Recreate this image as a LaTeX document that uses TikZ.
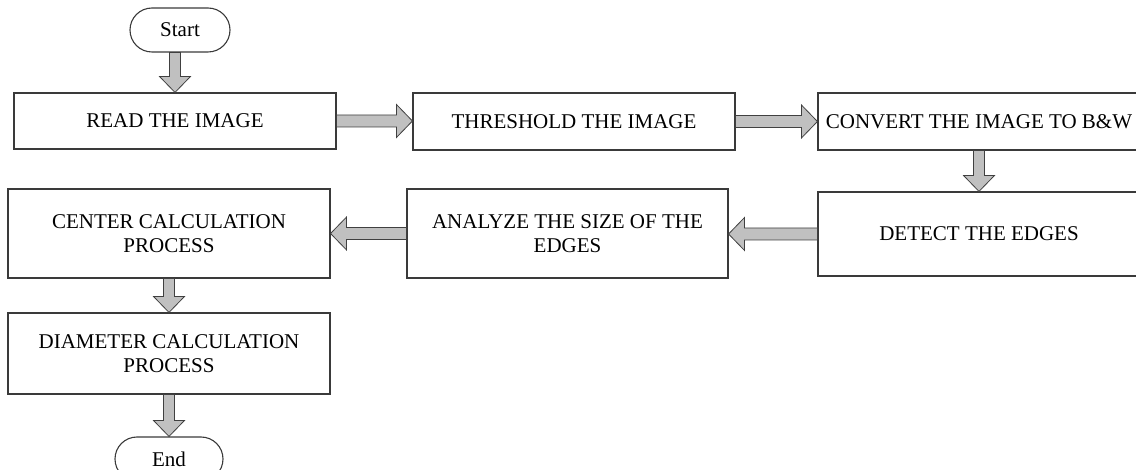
\documentclass[tikz,border=0pt]{standalone}
\usepackage{fontspec}
\setmainfont{Liberation Serif}
\usetikzlibrary{shapes.misc,calc}
\definecolor{boxline}{HTML}{3A3A3A}
\definecolor{arrowline}{HTML}{404040}
\definecolor{arrowfill}{HTML}{C0C0C0}
\tikzset{
  txt/.style={font=\fontsize{21}{24}\selectfont},
  stepbox/.style={draw=boxline, line width=1.1pt, rectangle, inner sep=2pt, align=center, txt},
  term/.style={draw=boxline, line width=1.1pt, rounded rectangle, inner sep=0pt, txt},
  blockarrow/.style={draw=arrowline, fill=arrowfill, line width=0.8pt, line join=miter}
}
\newcommand\blockdown[2]{%
  \draw[blockarrow] let \p1=(#1.south), \p2=(#2.north) in
    (\x2-5.5pt,\y1) -- (\x2+5.5pt,\y1) -- (\x2+5.5pt,\y2+16pt) -- (\x2+15.5pt,\y2+16pt)
    -- (\x2,\y2) -- (\x2-15.5pt,\y2+16pt) -- (\x2-5.5pt,\y2+16pt) -- cycle;}
\newcommand\blockright[2]{%
  \draw[blockarrow] let \p1=(#1.east), \p2=(#2.west) in
    (\x1,\y1+6pt) -- (\x2-16pt,\y1+6pt) -- (\x2-16pt,\y1+16.5pt) -- (\x2,\y1)
    -- (\x2-16pt,\y1-16.5pt) -- (\x2-16pt,\y1-6pt) -- (\x1,\y1-6pt) -- cycle;}
\newcommand\blockleft[2]{%
  \draw[blockarrow] let \p1=(#1.west), \p2=(#2.east) in
    (\x1,\y1+6pt) -- (\x2+16pt,\y1+6pt) -- (\x2+16pt,\y1+16.5pt) -- (\x2,\y1)
    -- (\x2+16pt,\y1-16.5pt) -- (\x2+16pt,\y1-6pt) -- (\x1,\y1-6pt) -- cycle;}
\begin{document}
\begin{tikzpicture}[x=1pt,y=-1pt]
\useasboundingbox (0,0) rectangle (1136,470);
\clip (0,0) rectangle (1136,470);
\node[term, minimum width=100pt, minimum height=44pt] (start) at (180,30) {Start};
\node[stepbox, minimum width=322pt, minimum height=56pt] (read) at (175,121) {READ THE IMAGE};
\node[stepbox, minimum width=322pt, minimum height=57pt] (thresh) at (574,121.5) {THRESHOLD THE IMAGE};
\node[stepbox, minimum width=322pt, minimum height=57pt] (convert) at (979,121.5) {CONVERT THE IMAGE TO B\&W};
\node[stepbox, minimum width=322pt, minimum height=84pt] (detect) at (979,234) {DETECT THE EDGES};
\node[stepbox, minimum width=321pt, minimum height=89pt] (analyze) at (567.5,233.5) {ANALYZE THE SIZE OF THE\\EDGES};
\node[stepbox, minimum width=322pt, minimum height=89pt] (center) at (169,233.5) {CENTER CALCULATION\\PROCESS};
\node[stepbox, minimum width=322pt, minimum height=81pt] (diam) at (169,353.5) {DIAMETER CALCULATION\\PROCESS};
\node[term, minimum width=108pt, minimum height=44pt] (end) at (169,459) {End};
\blockdown{start}{read}
\blockright{read}{thresh}
\blockright{thresh}{convert}
\blockdown{convert}{detect}
\blockleft{detect}{analyze}
\blockleft{analyze}{center}
\blockdown{center}{diam}
\blockdown{diam}{end}
\end{tikzpicture}
\end{document}
